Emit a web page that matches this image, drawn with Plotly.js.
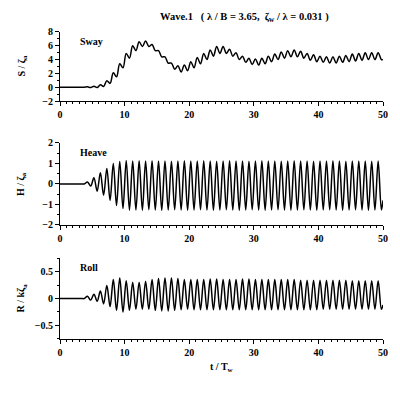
<!DOCTYPE html>
<html><head><meta charset="utf-8">
<script src="https://cdn.plot.ly/plotly-3.0.1.min.js"></script>
<style>html,body{margin:0;padding:0;background:#fff}#chart{width:400px;height:395px}</style>
</head><body><div id="chart"></div>
<script>
// time samples t / Tw (crests and troughs of each wave cycle)
const tw = [0, 3.25, 3.75,
 4.25,4.75, 5.25,5.75, 6.25,6.75, 7.25,7.75, 8.25,8.75, 9.25,9.75,
 10.25,10.75, 11.25,11.75, 12.25,12.75, 13.25,13.75, 14.25,14.75, 15.25,15.75, 16.25,16.75, 17.25,17.75, 18.25,18.75, 19.25,19.75,
 20.25,20.75, 21.25,21.75, 22.25,22.75, 23.25,23.75, 24.25,24.75, 25.25,25.75, 26.25,26.75, 27.25,27.75, 28.25,28.75, 29.25,29.75,
 30.25,30.75, 31.25,31.75, 32.25,32.75, 33.25,33.75, 34.25,34.75, 35.25,35.75, 36.25,36.75, 37.25,37.75, 38.25,38.75, 39.25,39.75,
 40.25,40.75, 41.25,41.75, 42.25,42.75, 43.25,43.75, 44.25,44.75, 45.25,45.75, 46.25,46.75, 47.25,47.75, 48.25,48.75, 49.25,49.75,
 50];

// Sway S / zeta_a
const sway = [0, 0, 0,
 0.05,-0.05, 0.15,-0.05, 0.35,0.1, 0.95,0.55, 2.1,1.5, 3.4,2.8,
 4.9,4.2, 6.0,5.3, 6.6,5.9, 6.7,5.9, 6.2,5.3, 5.3,4.4, 4.4,3.5, 3.5,2.6, 3.1,2.2, 3.2,2.4,
 3.7,2.8, 4.3,3.4, 4.9,4.0, 5.4,4.5, 5.9,4.9, 5.9,4.9, 5.5,4.5, 5.0,4.0, 4.5,3.6, 4.2,3.3,
 4.1,3.2, 4.2,3.4, 4.5,3.7, 4.8,4.0, 5.1,4.2, 5.3,4.4, 5.4,4.4, 5.2,4.2, 4.9,3.9, 4.7,3.7,
 4.5,3.6, 4.4,3.5, 4.4,3.5, 4.5,3.6, 4.6,3.7, 4.8,3.8, 4.9,3.9, 5.0,4.0, 5.0,4.0, 5.0,4.0,
 4.0];

// Heave H / zeta_a
const heave = [0, 0, 0,
 0.1,-0.1, 0.3,-0.35, 0.55,-0.55, 0.75,-0.8, 1.0,-1.05, 1.1,-1.2,
 1.15,-1.28, 1.12,-1.27, 1.13,-1.28, 1.12,-1.26, 1.13,-1.27, 1.12,-1.28, 1.12,-1.27, 1.11,-1.26, 1.12,-1.27, 1.13,-1.28,
 1.12,-1.27, 1.12,-1.26, 1.13,-1.27, 1.12,-1.28, 1.11,-1.27, 1.12,-1.26, 1.13,-1.27, 1.12,-1.28, 1.12,-1.27, 1.11,-1.26,
 1.12,-1.27, 1.13,-1.28, 1.12,-1.27, 1.12,-1.26, 1.11,-1.27, 1.12,-1.28, 1.13,-1.27, 1.12,-1.26, 1.12,-1.27, 1.11,-1.28,
 1.12,-1.27, 1.12,-1.26, 1.13,-1.27, 1.12,-1.28, 1.11,-1.27, 1.12,-1.26, 1.12,-1.27, 1.12,-1.28, 1.11,-1.27, 1.12,-1.26,
 -0.8];

// Roll R / k zeta_a
const roll = [0, 0, 0,
 0.04,-0.03, 0.08,-0.05, 0.14,-0.1, 0.24,-0.15, 0.35,-0.22, 0.38,-0.25,
 0.33,-0.22, 0.3,-0.2, 0.3,-0.2, 0.32,-0.2, 0.35,-0.22, 0.37,-0.23, 0.38,-0.23, 0.38,-0.22, 0.37,-0.21, 0.35,-0.2,
 0.35,-0.21, 0.35,-0.21, 0.35,-0.21, 0.36,-0.21, 0.36,-0.21, 0.35,-0.21, 0.35,-0.21, 0.35,-0.21, 0.36,-0.21, 0.36,-0.21,
 0.35,-0.21, 0.35,-0.21, 0.35,-0.21, 0.35,-0.21, 0.35,-0.21, 0.35,-0.21, 0.35,-0.21, 0.34,-0.21, 0.34,-0.21, 0.34,-0.21,
 0.34,-0.2, 0.34,-0.2, 0.34,-0.2, 0.34,-0.2, 0.34,-0.2, 0.33,-0.2, 0.33,-0.2, 0.33,-0.2, 0.33,-0.2, 0.33,-0.2,
 -0.12];

const xTicks = [0, 10, 20, 30, 40, 50];
const titleText = "Wave.1&nbsp;&nbsp; ( λ / B = 3.65,&nbsp; ζ<sub>w</sub> / λ = 0.031 )";
const panelNames = ["Sway", "Heave", "Roll"];
const yTitles = ["S / ζ<sub>a</sub>", "H / ζ<sub>a</sub>", "R / kζ<sub>a</sub>"];

const F = {family: "Liberation Serif, Times New Roman, serif", size: 10, color: "#000", weight: "bold"};
const FT = {family: "Liberation Serif, Times New Roman, serif", size: 10.5, color: "#000", weight: "bold"};
const line = {color: "#000", width: 1.5, shape: "spline", smoothing: 1};

const traces = [
  {x: tw, y: sway, xaxis: "x", yaxis: "y", mode: "lines", line: line, hoverinfo: "skip"},
  {x: tw, y: heave, xaxis: "x2", yaxis: "y2", mode: "lines", line: line, hoverinfo: "skip"},
  {x: tw, y: roll, xaxis: "x3", yaxis: "y3", mode: "lines", line: line, hoverinfo: "skip"}
];

function xa(anchor) {
  return {domain: [0.15, 0.9575], range: [0, 50], anchor: anchor, tickvals: xTicks,
    showline: true, linecolor: "#000", linewidth: 1, ticks: "outside", ticklen: 4, tickcolor: "#000",
    minor: {dtick: 1, ticks: "outside", ticklen: 2, tickcolor: "#000"},
    showgrid: false, zeroline: false, tickfont: F, fixedrange: true};
}
function ya(anchor, dom, rng, vals, minorD) {
  return {domain: dom, range: rng, anchor: anchor, tickvals: vals,
    showline: true, linecolor: "#000", linewidth: 1, ticks: "outside", ticklen: 4, tickcolor: "#000",
    minor: {dtick: minorD, ticks: "outside", ticklen: 2, tickcolor: "#000"},
    showgrid: false, zeroline: false, tickfont: F, fixedrange: true};
}

const doms = [[0.7443, 0.9190], [0.4304, 0.6380], [0.1418, 0.3468]];
const layout = {
  width: 400, height: 395, margin: {l: 0, r: 0, t: 0, b: 0},
  paper_bgcolor: "#fff", plot_bgcolor: "#fff", showlegend: false,
  xaxis: xa("y"), xaxis2: xa("y2"), xaxis3: xa("y3"),
  yaxis: ya("x", doms[0], [-2, 8], [-2, 0, 2, 4, 6, 8], 1),
  yaxis2: ya("x2", doms[1], [-2, 2], [-2, -1, 0, 1, 2], 0.5),
  yaxis3: ya("x3", doms[2], [-0.75, 0.75], [-0.5, 0, 0.5], 0.25),
  annotations: [
    {text: titleText, xref: "paper", yref: "paper", x: 0.395, y: 1 - 17/395, xanchor: "left", yanchor: "middle", showarrow: false, font: FT},
    {text: panelNames[0], xref: "x", yref: "y domain", x: 2.8, y: 0.97, xanchor: "left", yanchor: "top", showarrow: false, font: F},
    {text: panelNames[1], xref: "x2", yref: "y2 domain", x: 2.8, y: 0.97, xanchor: "left", yanchor: "top", showarrow: false, font: F},
    {text: panelNames[2], xref: "x3", yref: "y3 domain", x: 2.8, y: 0.97, xanchor: "left", yanchor: "top", showarrow: false, font: F},
    {text: yTitles[0], xref: "paper", yref: "paper", x: 22/400, y: (doms[0][0]+doms[0][1])/2, xanchor: "center", yanchor: "middle", textangle: -90, showarrow: false, font: F},
    {text: yTitles[1], xref: "paper", yref: "paper", x: 22/400, y: (doms[1][0]+doms[1][1])/2, xanchor: "center", yanchor: "middle", textangle: -90, showarrow: false, font: F},
    {text: yTitles[2], xref: "paper", yref: "paper", x: 22/400, y: (doms[2][0]+doms[2][1])/2, xanchor: "center", yanchor: "middle", textangle: -90, showarrow: false, font: F},
    {text: "t / T<sub>w</sub>", xref: "paper", yref: "paper", x: 221.5/400, y: 1 - 376/395, showarrow: false, font: F}
  ]
};

Plotly.newPlot("chart", traces, layout, {staticPlot: true, displayModeBar: false});
</script>
</body></html>
